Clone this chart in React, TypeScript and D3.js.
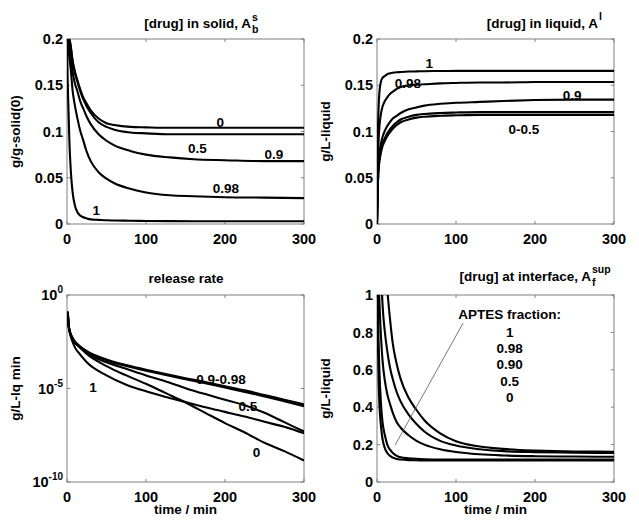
import React from 'react';
import * as d3 from 'd3';

// time grid (min) used for the solid / liquid / interface panels
const timeA = [0, 1, 2, 3, 5, 7, 10, 13, 17, 20, 25, 30, 40, 50, 60, 80, 100, 130, 160, 200, 250, 300];
// time grid for the release-rate panel
const timeB = [1, 2, 4, 7, 10, 15, 25, 50, 75, 100, 125, 150, 175, 200, 225, 250, 275, 300];

// [drug] in solid, g/g-solid(0)
const solid0 = [0.2, 0.2, 0.2, 0.2, 0.19, 0.177, 0.165, 0.156, 0.145, 0.138, 0.13, 0.123, 0.114, 0.109, 0.107, 0.105, 0.1045, 0.104, 0.104, 0.104, 0.104, 0.104];
const solid05 = [0.2, 0.2, 0.2, 0.2, 0.19, 0.176, 0.163, 0.154, 0.143, 0.136, 0.127, 0.12, 0.11, 0.105, 0.102, 0.099, 0.098, 0.097, 0.097, 0.097, 0.097, 0.097];
const solid09 = [0.2, 0.2, 0.2, 0.195, 0.18, 0.165, 0.152, 0.144, 0.132, 0.126, 0.116, 0.108, 0.097, 0.09, 0.085, 0.079, 0.075, 0.072, 0.07, 0.069, 0.068, 0.068];
const solid098 = [0.2, 0.2, 0.19, 0.18, 0.165, 0.145, 0.128, 0.115, 0.1, 0.092, 0.078, 0.068, 0.056, 0.049, 0.044, 0.038, 0.034, 0.031, 0.03, 0.029, 0.0285, 0.028];
const solid1 = [0.2, 0.15, 0.12, 0.09, 0.055, 0.035, 0.02, 0.013, 0.009, 0.0075, 0.006, 0.005, 0.0045, 0.004, 0.0038, 0.0035, 0.0033, 0.0031, 0.003, 0.003, 0.003, 0.003];

// [drug] in liquid, g/L-liquid
const liq1 = [0, 0.09, 0.125, 0.142, 0.154, 0.158, 0.16, 0.162, 0.163, 0.1635, 0.164, 0.1643, 0.1648, 0.165, 0.1652, 0.1654, 0.1655, 0.1655, 0.1655, 0.1655, 0.1655, 0.1655];
const liq098 = [0, 0.06, 0.09, 0.105, 0.119, 0.127, 0.133, 0.137, 0.141, 0.143, 0.146, 0.148, 0.15, 0.1505, 0.151, 0.152, 0.1525, 0.153, 0.153, 0.1535, 0.1535, 0.1535];
const liq09 = [0, 0.045, 0.065, 0.075, 0.087, 0.094, 0.101, 0.106, 0.111, 0.114, 0.117, 0.12, 0.124, 0.126, 0.128, 0.13, 0.131, 0.132, 0.133, 0.134, 0.1345, 0.1345];
const liq05 = [0, 0.045, 0.062, 0.07, 0.08, 0.087, 0.093, 0.098, 0.103, 0.106, 0.11, 0.113, 0.116, 0.118, 0.119, 0.12, 0.1205, 0.121, 0.121, 0.121, 0.121, 0.121];
const liq0 = [0, 0.04, 0.058, 0.067, 0.077, 0.084, 0.09, 0.095, 0.1, 0.103, 0.107, 0.11, 0.113, 0.115, 0.116, 0.117, 0.1175, 0.118, 0.118, 0.118, 0.118, 0.118];

// release rate, g/L-lq min (log10 of the value)
const rate09 = [-0.9, -1.6, -2.0, -2.3, -2.5, -2.7, -3.0, -3.45, -3.75, -4.0, -4.22, -4.45, -4.65, -4.88, -5.1, -5.35, -5.6, -5.85];
const rate098 = [-0.9, -1.6, -2.0, -2.3, -2.5, -2.7, -3.02, -3.5, -3.8, -4.05, -4.28, -4.5, -4.72, -4.95, -5.18, -5.42, -5.68, -5.95];
const rate05 = [-0.9, -1.6, -2.05, -2.35, -2.55, -2.75, -3.1, -3.6, -3.95, -4.3, -4.62, -4.98, -5.3, -5.6, -5.9, -6.3, -6.8, -7.3];
const rate1 = [-0.9, -1.6, -2.1, -2.5, -2.8, -3.1, -3.6, -4.3, -4.8, -5.15, -5.45, -5.72, -6.0, -6.25, -6.5, -6.78, -7.05, -7.4];
const rate0 = [-0.9, -1.6, -2.05, -2.35, -2.55, -2.75, -3.15, -3.8, -4.3, -4.75, -5.25, -5.75, -6.3, -6.85, -7.35, -7.9, -8.35, -8.85];

// [drug] at interface, g/L-liquid
const intf1 = [3, 2.8, 2.5, 2.2, 1.8, 1.5, 1.2, 1.03, 0.85, 0.74, 0.63, 0.55, 0.45, 0.385, 0.33, 0.26, 0.218, 0.19, 0.177, 0.168, 0.163, 0.162];
const intf098 = [3, 2.3, 1.8, 1.5, 1.15, 0.95, 0.8, 0.7, 0.6, 0.55, 0.48, 0.43, 0.36, 0.31, 0.27, 0.22, 0.195, 0.175, 0.165, 0.16, 0.157, 0.155];
const intf09 = [2, 1.4, 1.1, 0.97, 0.78, 0.65, 0.54, 0.47, 0.41, 0.37, 0.32, 0.29, 0.25, 0.22, 0.2, 0.175, 0.16, 0.148, 0.142, 0.138, 0.136, 0.135];
const intf05 = [1.5, 1.0, 0.75, 0.6, 0.42, 0.32, 0.25, 0.2, 0.17, 0.155, 0.14, 0.132, 0.127, 0.124, 0.122, 0.12, 0.12, 0.12, 0.12, 0.12, 0.12, 0.12];
const intf0 = [1.2, 0.8, 0.55, 0.42, 0.3, 0.23, 0.18, 0.155, 0.138, 0.13, 0.123, 0.12, 0.117, 0.116, 0.115, 0.115, 0.115, 0.115, 0.115, 0.115, 0.115, 0.115];

const xTicks = [0, 100, 200, 300];
const solidTicks = [0, 0.05, 0.1, 0.15, 0.2];
const liqTicks = [0, 0.05, 0.1, 0.15, 0.2];
const rateTicks = [0, -5, -10];
const intfTicks = [0, 0.2, 0.4, 0.6, 0.8, 1];

const solidLabels = [
  { text: '0', t: 194, v: 0.1106 },
  { text: '0.5', t: 165, v: 0.0822 },
  { text: '0.9', t: 262, v: 0.0757 },
  { text: '0.98', t: 201, v: 0.0389 },
  { text: '1', t: 37, v: 0.0151 },
];
const liqLabels = [
  { text: '1', t: 66, v: 0.174 },
  { text: '0.98', t: 39, v: 0.152 },
  { text: '0.9', t: 247, v: 0.139 },
  { text: '0-0.5', t: 186, v: 0.1027 },
];
const rateLabels = [
  { text: '0.9-0.98', t: 195, v: -4.49 },
  { text: '1', t: 33, v: -4.92 },
  { text: '0.5', t: 229, v: -5.94 },
  { text: '0', t: 240, v: -8.4 },
];
const intfLabels = [
  { text: 'APTES fraction:', t: 168, v: 0.898 },
  { text: '1', t: 168, v: 0.802 },
  { text: '0.98', t: 168, v: 0.717 },
  { text: '0.90', t: 168, v: 0.631 },
  { text: '0.5', t: 168, v: 0.54 },
  { text: '0', t: 168, v: 0.4545 },
];
const leader = [{ t: 109, v: 0.85 }, { t: 23, v: 0.198 }];

const FONT = 'Liberation Sans, Arial, Helvetica, sans-serif';
const AX = '#808080';

type Box = { x0: number; x1: number; y0: number; y1: number };

function Panel(props: {
  id: string;
  box: Box;
  yDomain: [number, number];
  yTicks: number[];
  yFmt: (v: number) => React.ReactNode;
  time: number[];
  series: number[][];
  labels: { text: string; t: number; v: number }[];
  yLabel: string;
  xLabel?: string;
  children?: (x: d3.ScaleLinear<number, number>, y: d3.ScaleLinear<number, number>) => React.ReactNode;
}) {
  const { box, time } = props;
  const x = d3.scaleLinear().domain([0, 300]).range([box.x0, box.x1]);
  const y = d3.scaleLinear().domain(props.yDomain).range([box.y1, box.y0]);
  const line = d3
    .line<number>()
    .x((d, i) => x(time[i]))
    .y((d) => y(d))
    .curve(d3.curveMonotoneX);
  const cx = (box.x0 + box.x1) / 2;
  const cy = (box.y0 + box.y1) / 2;
  return (
    <g>
      <defs>
        <clipPath id={props.id}>
          <rect x={box.x0} y={box.y0} width={box.x1 - box.x0} height={box.y1 - box.y0} />
        </clipPath>
      </defs>
      <rect x={box.x0} y={box.y0} width={box.x1 - box.x0} height={box.y1 - box.y0} fill="none" stroke={AX} strokeWidth={1} />
      {xTicks.map((t) => (
        <g key={'x' + t}>
          <line x1={x(t)} x2={x(t)} y1={box.y1} y2={box.y1 - 3} stroke={AX} />
          <line x1={x(t)} x2={x(t)} y1={box.y0} y2={box.y0 + 3} stroke={AX} />
          <text x={x(t)} y={box.y1 + 19.5} textAnchor="middle" fontSize={14.5} fontWeight="bold">
            {t}
          </text>
        </g>
      ))}
      {props.yTicks.map((v) => (
        <g key={'y' + v}>
          <line x1={box.x0} x2={box.x0 + 3} y1={y(v)} y2={y(v)} stroke={AX} />
          <line x1={box.x1} x2={box.x1 - 3} y1={y(v)} y2={y(v)} stroke={AX} />
          <text x={box.x0 - 4} y={y(v)} dy="0.36em" textAnchor="end" fontSize={14.5} fontWeight="bold">
            {props.yFmt(v)}
          </text>
        </g>
      ))}
      <g clipPath={`url(#${props.id})`}>
        {props.series.map((s, i) => (
          <path key={i} d={line(s) || ''} fill="none" stroke="#000" strokeWidth={2.1} />
        ))}
      </g>
      {props.labels.map((l, i) => (
        <text key={i} x={x(l.t)} y={y(l.v)} dy="0.36em" textAnchor="middle" fontSize={13.5} fontWeight="bold">
          {l.text}
        </text>
      ))}
      {props.children && props.children(x, y)}
      <text transform={`translate(${box.x0 - 47},${cy}) rotate(-90)`} textAnchor="middle" fontSize={13.5} fontWeight="bold">
        {props.yLabel}
      </text>
      {props.xLabel && (
        <text x={cx} y={box.y1 + 32} textAnchor="middle" fontSize={13.5} fontWeight="bold">
          {props.xLabel}
        </text>
      )}
    </g>
  );
}

const p1: Box = { x0: 67, x1: 304, y0: 39, y1: 224 };
const p2: Box = { x0: 377, x1: 614, y0: 39, y1: 224 };
const p3: Box = { x0: 67, x1: 304, y0: 295, y1: 482 };
const p4: Box = { x0: 377, x1: 614, y0: 295, y1: 482 };

const decimal = (v: number) => String(v);
const pow10 = (v: number) => (
  <>
    10
    <tspan fontSize={10} dy={-7}>
      {v}
    </tspan>
  </>
);

export default function App() {
  return (
    <div style={{ position: 'absolute', left: 0, top: 0 }}>
      <svg width={639} height={523} fontFamily={FONT} style={{ display: 'block', background: '#fff' }}>
        <rect width={639} height={523} fill="#fff" />
        <Panel
          id="c1"
          box={p1}
          yDomain={[0, 0.2]}
          yTicks={solidTicks}
          yFmt={decimal}
          time={timeA}
          series={[solid0, solid05, solid09, solid098, solid1]}
          labels={solidLabels}
          yLabel="g/g-solid(0)"
        />
        <Panel
          id="c2"
          box={p2}
          yDomain={[0, 0.2]}
          yTicks={liqTicks}
          yFmt={decimal}
          time={timeA}
          series={[liq1, liq098, liq09, liq05, liq0]}
          labels={liqLabels}
          yLabel="g/L-liquid"
        />
        <Panel
          id="c3"
          box={p3}
          yDomain={[-10, 0]}
          yTicks={rateTicks}
          yFmt={pow10}
          time={timeB}
          series={[rate09, rate098, rate05, rate1, rate0]}
          labels={rateLabels}
          yLabel="g/L-lq min"
          xLabel="time / min"
        />
        <Panel
          id="c4"
          box={p4}
          yDomain={[0, 1]}
          yTicks={intfTicks}
          yFmt={decimal}
          time={timeA}
          series={[intf1, intf098, intf09, intf05, intf0]}
          labels={intfLabels}
          yLabel="g/L-liquid"
          xLabel="time / min"
        >
          {(x, y) => (
            <line
              x1={x(leader[0].t)}
              y1={y(leader[0].v)}
              x2={x(leader[1].t)}
              y2={y(leader[1].v)}
              stroke="#555"
              strokeWidth={0.8}
            />
          )}
        </Panel>

        {/* titles */}
        <g fontSize={13.5} fontWeight="bold">
          <text x={251} y={28} textAnchor="end">[drug] in solid, A</text>
          <text x={252} y={21} fontSize={10.5}>s</text>
          <text x={252} y={33} fontSize={10.5}>b</text>

          <text x={598} y={28} textAnchor="end">[drug] in liquid, A</text>
          <text x={599} y={20} fontSize={10.5}>l</text>

          <text x={186} y={283} textAnchor="middle">release rate</text>

          <text x={591} y={281} textAnchor="end">[drug] at interface, A</text>
          <text x={592} y={273} fontSize={10.5}>sup</text>
          <text x={592} y={286} fontSize={10.5}>f</text>
        </g>
      </svg>
    </div>
  );
}
